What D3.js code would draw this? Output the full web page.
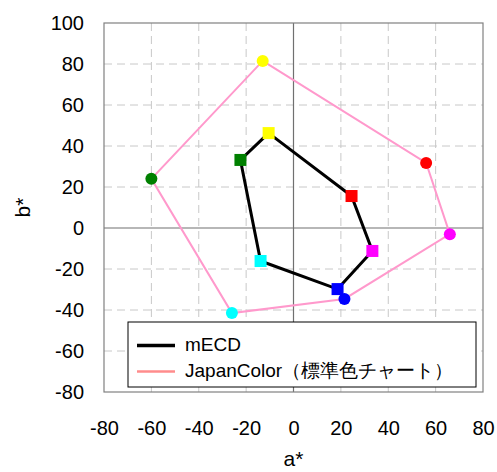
<!DOCTYPE html>
<html>
<head>
<meta charset="utf-8">
<script src="https://cdn.jsdelivr.net/npm/d3@7"></script>
<style>
body{margin:0;background:#fff;}
text{font-family:"Liberation Sans",Arial,sans-serif;}
</style>
</head>
<body>
<svg id="c" width="497" height="472"></svg>
<script>
const colorNames = ["yellow","red","magenta","blue","cyan","green"];
const markerColors = ["#FFFF00","#FF0000","#FF00FF","#0000FF","#00FFFF","#008000"];
const mecdA = [-10.5, 24.5, 33.3, 18.6, -13.9, -22.4];
const mecdB = [46.3, 15.6, -11.2, -29.8, -16.1, 33.2];
const japanA = [-13, 56, 66, 21.5, -26, -60];
const japanB = [81.5, 31.7, -3, -34.6, -41.5, 24];
const xTicks = [-80,-60,-40,-20,0,20,40,60,80];
const yTicks = [-80,-60,-40,-20,0,20,40,60,80,100];
const seriesNames = ["mECD","JapanColor（標準色チャート）"];

const svg = d3.select("#c");
const L=104, R=483, T=23, B=392;
const x = d3.scaleLinear().domain([-80,80]).range([L,R]);
const y = d3.scaleLinear().domain([-80,100]).range([B,T]);

// grid
const g = svg.append("g");
g.selectAll(".vg").data(xTicks.filter(d=>d!==0 && d!==-80 && d!==80)).enter().append("line")
 .attr("x1",d=>x(d)).attr("x2",d=>x(d)).attr("y1",T).attr("y2",B)
 .attr("stroke","#c8c8c8").attr("stroke-dasharray","8,5");
g.selectAll(".hg").data(yTicks.filter(d=>d!==0 && d!==-80 && d!==100)).enter().append("line")
 .attr("y1",d=>y(d)).attr("y2",d=>y(d)).attr("x1",L).attr("x2",R)
 .attr("stroke","#c8c8c8").attr("stroke-dasharray","8,5");
// zero axes
g.append("line").attr("x1",x(0)).attr("x2",x(0)).attr("y1",T).attr("y2",B).attr("stroke","#707070").attr("stroke-width",1.2);
g.append("line").attr("y1",y(0)).attr("y2",y(0)).attr("x1",L).attr("x2",R).attr("stroke","#707070").attr("stroke-width",1.2);
// border
g.append("rect").attr("x",L).attr("y",T).attr("width",R-L).attr("height",B-T).attr("fill","none").attr("stroke","#808080").attr("stroke-width",1.2);

// tick labels
const fmt = d => String(d);
const xAxis = d3.axisBottom(x).tickValues(xTicks).tickFormat(fmt).tickSize(0).tickPadding(0);
const xa = svg.append("g").attr("transform",`translate(0,435)`).call(xAxis);
xa.select(".domain").remove();
xa.selectAll("text").attr("dy",0).attr("y",0).attr("font-size",20).attr("fill","#000").attr("font-family","Liberation Sans, Arial, sans-serif");

const yAxis = d3.axisLeft(y).tickValues(yTicks).tickFormat(fmt).tickSize(0).tickPadding(0);
const ya = svg.append("g").attr("transform",`translate(84,0)`).call(yAxis);
ya.select(".domain").remove();
ya.selectAll("text").attr("font-size",20).attr("fill","#000").attr("font-family","Liberation Sans, Arial, sans-serif");

// axis titles
svg.append("text").attr("x",x(0)).attr("y",466).attr("text-anchor","middle").attr("font-size",21).text("a*");
svg.append("text").attr("transform",`translate(30,${(T+B)/2})rotate(-90)`).attr("text-anchor","middle").attr("font-size",21).text("b*");

const line = d3.line().x(d=>x(d[0])).y(d=>y(d[1])).curve(d3.curveLinearClosed);
const jp = japanA.map((a,i)=>[a,japanB[i]]);
const me = mecdA.map((a,i)=>[a,mecdB[i]]);

svg.append("path").attr("d",line(jp)).attr("fill","none").attr("stroke","#FF99CC").attr("stroke-width",2);
svg.append("path").attr("d",line(me)).attr("fill","none").attr("stroke","#000").attr("stroke-width",3);

svg.selectAll(".jc").data(jp).enter().append("circle")
 .attr("cx",d=>x(d[0])).attr("cy",d=>y(d[1])).attr("r",6).attr("fill",(d,i)=>markerColors[i]);
svg.selectAll(".ms").data(me).enter().append("rect")
 .attr("x",d=>x(d[0])-6).attr("y",d=>y(d[1])-6).attr("width",12).attr("height",12).attr("fill",(d,i)=>markerColors[i]);

// legend
const lg = svg.append("g");
lg.append("rect").attr("x",128).attr("y",322).attr("width",348).attr("height",65).attr("fill","#fff").attr("stroke","#000").attr("stroke-width",1);
const lColors = ["#000","#FF8C8C"], lWidths=[3.5,2.5], lY=[345.5,371.5];
seriesNames.forEach((n,i)=>{
  lg.append("line").attr("x1",137).attr("x2",175).attr("y1",lY[i]).attr("y2",lY[i]).attr("stroke",lColors[i]).attr("stroke-width",lWidths[i]);
  lg.append("text").attr("x",185).attr("y",lY[i]+5.5).attr("font-size",19).attr("font-family","Liberation Sans, 'Noto Sans CJK JP', sans-serif").text(n);
});
</script>
</body>
</html>
